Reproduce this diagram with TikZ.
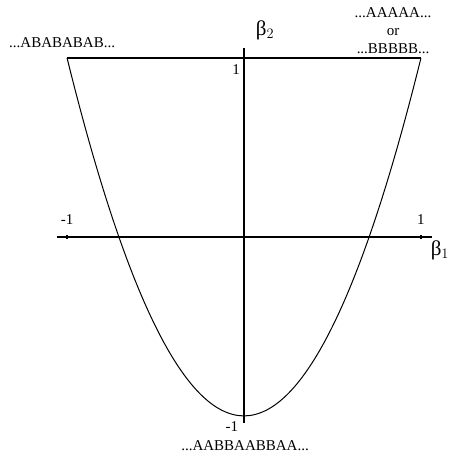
\documentclass[tikz,border=0pt]{standalone}
\usepackage{fontspec}
\setmainfont{Liberation Serif}
\tikzset{lbl/.style = {font=\fontsize{15}{18}\selectfont, inner sep=0pt},
  greek/.style = {font=\fontsize{21}{24}\selectfont, inner sep=0pt}}

\begin{document}
\begin{tikzpicture}[x=177pt, y=179pt, line width=1.3pt]
      \useasboundingbox (-1.379,-1.229) rectangle (1.215,1.324);
      % axes
      \draw (-1.056,0) -- (1.062,0);
      \draw (0,1.056) -- (0,-1.039);
      \draw (-1,-.012) -- (-1,.012);
      \draw (1,-.012) -- (1,.012);
      % top edge and parabola
      \draw [line width=2pt] (-1,1) -- (1,1);
      \draw [line width=1pt, smooth, domain=-1:1, samples=81]
        plot (\x, {2*\x*\x-1});
      % labels
      \node [lbl] (alt) at (-1.028,1.084) {...ABABABAB...};
      \node [lbl, align=center] (const) at (.842,1.151) {...AAAAA...\\or\\...BBBBB...};
      \node [lbl] (per) at (.006,-1.168) {...AABBAABBAA...};
      \node [greek] (b2) at (.119,1.156) {β$_2$};
      \node [greek] (b1) at (1.107,-.073) {β$_1$};
      \node [lbl] (ytop) at (-.045,.933) {1};
      \node [lbl] (ybot) at (-.068,-1.061) {-1};
      \node [lbl] (xl) at (-1,.095) {-1};
      \node [lbl] (xr) at (1,.095) {1};
\end{tikzpicture}
\end{document}
